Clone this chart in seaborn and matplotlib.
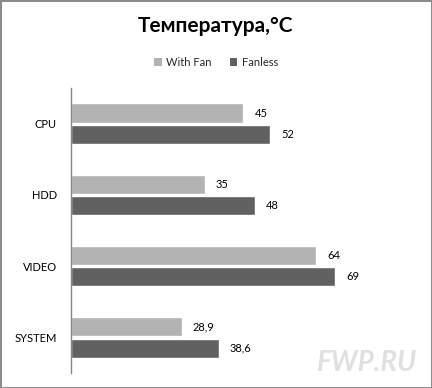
import matplotlib
matplotlib.use("Agg")
import matplotlib.pyplot as plt
import seaborn as sns
import pandas as pd

categories = ["CPU", "HDD", "VIDEO", "SYSTEM"]
series_names = ["With Fan", "Fanless"]
with_fan = [45, 35, 64, 28.9]
fanless = [52, 48, 69, 38.6]
label_with_fan = ["45", "35", "64", "28,9"]
label_fanless = ["52", "48", "69", "38,6"]
colors = ["#B3B3B3", "#616161"]

df = pd.DataFrame({
    "cat": categories * 2,
    "series": [series_names[0]] * 4 + [series_names[1]] * 4,
    "value": with_fan + fanless,
})

sns.set_theme(style="white")
plt.rcParams["font.family"] = ["Lato", "DejaVu Sans"]

fig = plt.figure(figsize=(4.32, 3.88), dpi=100)
fig.patch.set_edgecolor("#8C8C8C")
fig.patch.set_linewidth(2)
ax = fig.add_axes([0.1637, 0.0387, 0.71, 0.7343])

sns.barplot(data=df, y="cat", x="value", hue="series", orient="h",
            palette=colors, width=0.6, gap=0.11, ax=ax, legend=False,
            saturation=1, errorbar=None)

ax.set_xlim(0, 80)
ax.set_ylim(3.5, -0.5)
ax.set_xlabel("")
ax.set_ylabel("")
ax.set_xticks([])
for s in ["top", "right", "bottom"]:
    ax.spines[s].set_visible(False)
ax.spines["left"].set_color("#868686")
ax.spines["left"].set_linewidth(1)
ax.tick_params(axis="y", length=0, pad=10, labelsize=8, labelcolor="#000000")

labels_all = [label_with_fan, label_fanless]
for cont, labs in zip(ax.containers, labels_all):
    ax.bar_label(cont, labels=labs, padding=8, fontsize=8, color="#000000")

fig.text(0.5, 0.933, "Температура,°C", ha="center", va="center",
         fontsize=15, fontweight="bold", color="#000000")

from matplotlib.patches import Patch
handles = [Patch(facecolor=c, edgecolor="none") for c in colors]
fig.legend(handles, series_names, loc="center", bbox_to_anchor=(0.5, 0.84),
           ncol=2, frameon=False, fontsize=8, handlelength=0.7, handleheight=0.7,
           handletextpad=0.4, columnspacing=1.6)

fig.text(0.965, 0.03, "FWP.RU", ha="right", va="bottom", fontsize=20,
         fontstyle="italic", fontweight="bold", color="#E0E0E0")

fig.savefig("out.png", dpi=100)
